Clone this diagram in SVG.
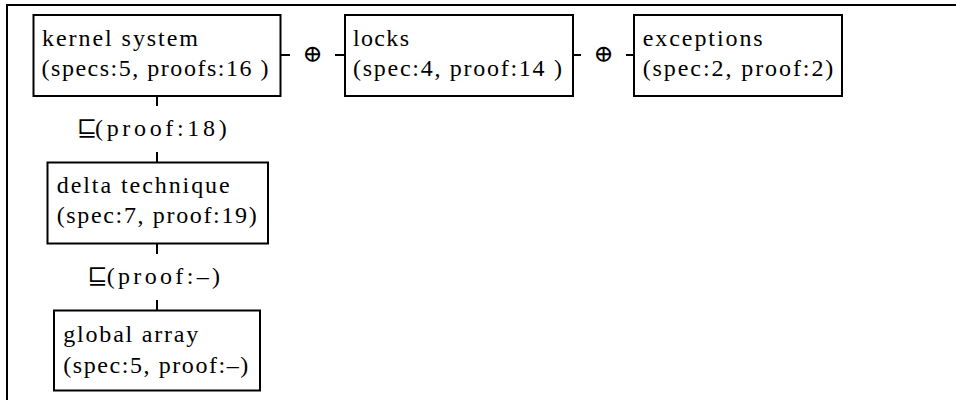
<svg xmlns="http://www.w3.org/2000/svg" width="956" height="400" viewBox="0 0 956 400" font-family="Liberation Serif, DejaVu Serif, serif">
  <style>
    .frame { fill: none; stroke: #000; stroke-width: 2; }
    .box { fill: #fff; stroke: #000; stroke-width: 2; }
    .edge { fill: none; stroke: #000; stroke-width: 2; }
    text { font-size: 24px; fill: #000; }
  </style>

  <rect width="956" height="400" fill="#fff"/>
  <!-- page frame: top and left rules only -->
  <path class="frame" d="M7 400 V5 H956"/>

  <!-- connectors -->
  <g id="connectors">
    <!-- kernel system -> locks -->
    <path class="edge" d="M281 55 H290 M335 55 H345"/>
    <text x="312.5" y="62" font-family="DejaVu Serif, serif" font-size="20" text-anchor="middle">⊕</text>
    <!-- locks -> exceptions -->
    <path class="edge" d="M573 55 H581 M626 55 H634"/>
    <text x="603.5" y="62" font-family="DejaVu Serif, serif" font-size="20" text-anchor="middle">⊕</text>
    <!-- kernel system -> delta technique -->
    <path class="edge" d="M157 97 V106 M157 152 V162"/>
    <g id="label-refine-1">
      <text x="76.7" y="136" font-family="DejaVu Serif, serif" font-size="21">⊑</text>
      <text x="95" y="136" font-family="Liberation Serif, serif" textLength="131.7" lengthAdjust="spacing">(proof:18)</text>
    </g>
    <!-- delta technique -> global array -->
    <path class="edge" d="M157 244 V254 M157 300 V310"/>
    <g id="label-refine-2">
      <text x="87.3" y="283.5" font-family="DejaVu Serif, serif" font-size="21">⊑</text>
      <text x="106.7" y="283.5" font-family="Liberation Serif, serif" textLength="113.3" lengthAdjust="spacing">(proof:–)</text>
    </g>
  </g>

  <g id="kernel-system" font-family="Liberation Serif, serif">
    <rect class="box" x="33.5" y="15" width="247" height="81"/>
    <text x="42" y="45.7" textLength="156" lengthAdjust="spacing">kernel system</text>
    <text x="41.5" y="75.5" textLength="227" lengthAdjust="spacing">(specs:5, proofs:16 )</text>
  </g>

  <g id="locks" font-family="Liberation Serif, serif">
    <rect class="box" x="345" y="15" width="228" height="81"/>
    <text x="353" y="45.7" textLength="56" lengthAdjust="spacing">locks</text>
    <text x="353" y="75.5" textLength="209" lengthAdjust="spacing">(spec:4, proof:14 )</text>
  </g>

  <g id="exceptions" font-family="Liberation Serif, serif">
    <rect class="box" x="634" y="15" width="208" height="81"/>
    <text x="642.7" y="45.7" textLength="120" lengthAdjust="spacing">exceptions</text>
    <text x="642.7" y="75.5" textLength="190.6" lengthAdjust="spacing">(spec:2, proof:2)</text>
  </g>

  <g id="delta-technique" font-family="Liberation Serif, serif">
    <rect class="box" x="47.5" y="162.5" width="220.5" height="81"/>
    <text x="56.7" y="193.3" textLength="173" lengthAdjust="spacing">delta technique</text>
    <text x="56.7" y="223" textLength="200" lengthAdjust="spacing">(spec:7, proof:19)</text>
  </g>

  <g id="global-array" font-family="Liberation Serif, serif">
    <rect class="box" x="54" y="310.5" width="206" height="80"/>
    <text x="63.3" y="341.7" textLength="135" lengthAdjust="spacing">global array</text>
    <text x="63.3" y="373" textLength="185" lengthAdjust="spacing">(spec:5, proof:–)</text>
  </g>
</svg>
